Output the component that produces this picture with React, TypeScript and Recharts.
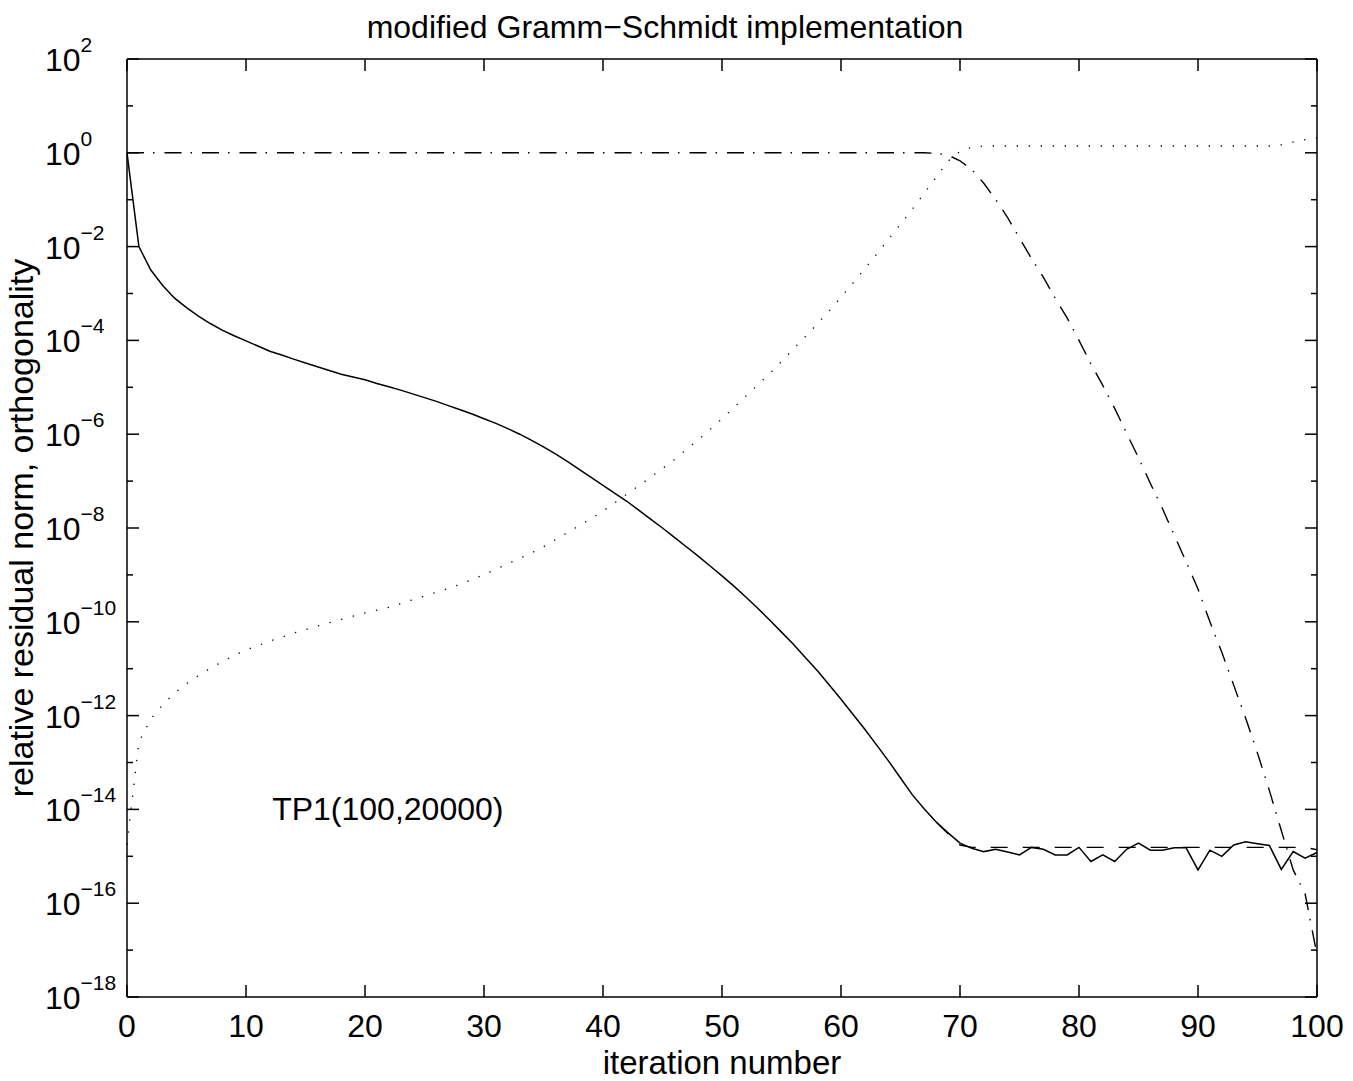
import React from 'react';
import { LineChart, Line, XAxis, YAxis, ReferenceDot } from 'recharts';

const FONT = '"Liberation Sans", Arial, Helvetica, sans-serif';

// iteration number 0..100
const iterations = Array.from({ length: 101 }, (_, i) => i);

// log10 of the relative residual norm (solid line)
const residualExp = [
  0, -2, -2.5, -2.83, -3.1, -3.3, -3.48, -3.64, -3.78, -3.9,
  -4.01, -4.12, -4.23, -4.31, -4.4, -4.48, -4.56, -4.64, -4.72, -4.78,
  -4.84, -4.92, -4.99, -5.06, -5.14, -5.22, -5.3, -5.39, -5.48, -5.57,
  -5.67, -5.77, -5.88, -6.0, -6.13, -6.27, -6.42, -6.58, -6.75, -6.92,
  -7.09, -7.26, -7.43, -7.62, -7.81, -8.0, -8.2, -8.4, -8.6, -8.81,
  -9.02, -9.24, -9.47, -9.71, -9.96, -10.22, -10.48, -10.76, -11.04, -11.34,
  -11.65, -11.97, -12.29, -12.63, -12.97, -13.33, -13.69, -13.99, -14.27, -14.5,
  -14.72, -14.83, -14.9, -14.85, -14.91, -14.97, -14.81, -14.85, -14.97, -14.97,
  -14.81, -15.11, -14.97, -15.11, -14.85, -14.72, -14.87, -14.87, -14.82, -14.82,
  -15.29, -14.87, -15.0, -14.76, -14.69, -14.73, -14.77, -15.28, -14.9, -15.04,
  -14.92,
];

// log10 of the true residual (dashed line), visible once it separates
const trueResidualExp = [
  null, null, null, null, null, null, null, null, null, null,
  null, null, null, null, null, null, null, null, null, null,
  null, null, null, null, null, null, null, null, null, null,
  null, null, null, null, null, null, null, null, null, null,
  null, null, null, null, null, null, null, null, null, null,
  null, null, null, null, null, null, null, null, null, null,
  null, null, null, null, null, null, null, null, -14.27, -14.52,
  -14.76, -14.81, -14.81, -14.81, -14.81, -14.81, -14.81, -14.81, -14.81, -14.81,
  -14.81, -14.81, -14.81, -14.81, -14.81, -14.81, -14.81, -14.81, -14.81, -14.81,
  -14.81, -14.81, -14.81, -14.81, -14.81, -14.81, -14.81, -14.81, -14.81, -14.81,
  -14.86,
];

// log10 of the loss of orthogonality (dotted line)
const orthoExp = [
  -14.75, -12.56, -12.07, -11.77, -11.52, -11.32, -11.15, -10.99, -10.85, -10.72,
  -10.6, -10.51, -10.41, -10.33, -10.24, -10.17, -10.09, -10.02, -9.95, -9.88,
  -9.81, -9.75, -9.69, -9.61, -9.53, -9.45, -9.37, -9.29, -9.2, -9.1,
  -8.99, -8.88, -8.76, -8.65, -8.53, -8.4, -8.25, -8.1, -7.95, -7.8,
  -7.64, -7.46, -7.28, -7.1, -6.92, -6.73, -6.54, -6.33, -6.12, -5.9,
  -5.67, -5.43, -5.19, -4.95, -4.71, -4.45, -4.18, -3.92, -3.65, -3.37,
  -3.08, -2.78, -2.47, -2.16, -1.84, -1.52, -1.2, -0.86, -0.52, -0.18,
  0.03, 0.12, 0.145, 0.145, 0.145, 0.145, 0.145, 0.145, 0.145, 0.145,
  0.145, 0.145, 0.145, 0.145, 0.145, 0.145, 0.145, 0.145, 0.145, 0.145,
  0.145, 0.145, 0.145, 0.145, 0.145, 0.145, 0.145, 0.17, 0.23, 0.28,
  0.32,
];

// log10 of the dash-dot quantity
const dashDotExp = [
  0, 0, 0, 0, 0, 0, 0, 0, 0, 0,
  0, 0, 0, 0, 0, 0, 0, 0, 0, 0,
  0, 0, 0, 0, 0, 0, 0, 0, 0, 0,
  0, 0, 0, 0, 0, 0, 0, 0, 0, 0,
  0, 0, 0, 0, 0, 0, 0, 0, 0, 0,
  0, 0, 0, 0, 0, 0, 0, 0, 0, 0,
  0, 0, 0, 0, 0, 0, 0, 0, -0.01, -0.05,
  -0.17, -0.36, -0.65, -1.0, -1.38, -1.82, -2.25, -2.65, -3.1, -3.52,
  -4.0, -4.5, -4.96, -5.45, -5.98, -6.5, -7.05, -7.58, -8.15, -8.72,
  -9.3, -10.0, -10.65, -11.35, -12.05, -12.8, -13.6, -14.45, -15.29, -15.8,
  -17.1,
];

const xTicks = [0, 10, 20, 30, 40, 50, 60, 70, 80, 90, 100];
const yTicks = [
  1e-18, 1e-17, 1e-16, 1e-15, 1e-14, 1e-13, 1e-12, 1e-11, 1e-10, 1e-9, 1e-8,
  1e-7, 1e-6, 1e-5, 1e-4, 1e-3, 1e-2, 1e-1, 1, 1e1, 1e2,
];

const data = iterations.map((it, i) => ({
  it,
  residual: 10 ** residualExp[i],
  trueResidual: trueResidualExp[i] === null ? null : 10 ** (trueResidualExp[i] as number),
  ortho: 10 ** orthoExp[i],
  dashDot: 10 ** dashDotExp[i],
}));

const TICK_FONT = 32;
const SUP_FONT = 21;
const LABEL_FONT = 33;

function expOf(v: number) {
  return Math.round(Math.log10(v));
}

function LeftTick({ x, y, payload }: any) {
  const e = expOf(payload.value);
  const major = e % 2 === 0;
  return (
    <g>
      <line x1={x} y1={y} x2={x + (major ? 12 : 6)} y2={y} stroke="#000" strokeWidth={1.5} />
      {major && (
        <text x={x - 82} y={y + 12} textAnchor="start" fontFamily={FONT} fontSize={TICK_FONT} fill="#000">
          <tspan>10</tspan>
          <tspan dy={-19} fontSize={SUP_FONT}>{e < 0 ? '\u2212' + -e : String(e)}</tspan>
        </text>
      )}
    </g>
  );
}

function RightTick({ x, y, payload }: any) {
  const major = expOf(payload.value) % 2 === 0;
  return <line x1={x} y1={y} x2={x - (major ? 12 : 6)} y2={y} stroke="#000" strokeWidth={1.5} />;
}

function BottomTick({ x, y, payload }: any) {
  return (
    <g>
      <line x1={x} y1={y} x2={x} y2={y - 12} stroke="#000" strokeWidth={1.5} />
      <text x={x} y={y + 40} textAnchor="middle" fontFamily={FONT} fontSize={TICK_FONT} fill="#000">
        {payload.value}
      </text>
    </g>
  );
}

function TopTick({ x, y }: any) {
  return <line x1={x} y1={y} x2={x} y2={y + 12} stroke="#000" strokeWidth={1.5} />;
}

// plot box edges in page pixels: left 127, top 59, right 1317, bottom 997
export default function App() {
  const axisLine = { stroke: '#000', strokeWidth: 1.5 };
  return (
    <div style={{ position: 'absolute', left: 0, top: 0, background: '#fff' }}>
      <LineChart width={1353} height={1081} data={data} margin={{ top: 19, right: 16, bottom: 44, left: 67 }}>
        <XAxis
          xAxisId="b"
          dataKey="it"
          type="number"
          domain={[0, 100]}
          ticks={xTicks}
          interval={0}
          height={40}
          tickSize={0}
          tickMargin={0}
          tickLine={false}
          axisLine={axisLine}
          tick={(p: any) => <BottomTick {...p} />}
          label={(p: any) => {
            const vb = p.viewBox;
            return (
              <text x={vb.x + vb.width / 2} y={1074} textAnchor="middle" fontFamily={FONT} fontSize={LABEL_FONT} fill="#000">
                iteration number
              </text>
            );
          }}
        />
        <XAxis
          xAxisId="t"
          orientation="top"
          dataKey="it"
          type="number"
          domain={[0, 100]}
          ticks={xTicks}
          interval={0}
          height={40}
          tickSize={0}
          tickMargin={0}
          tickLine={false}
          axisLine={axisLine}
          tick={(p: any) => <TopTick {...p} />}
          label={() => (
            <text x={665} y={38} textAnchor="middle" fontFamily={FONT} fontSize={TICK_FONT} fill="#000">
              modified Gramm{'\u2212'}Schmidt implementation
            </text>
          )}
        />
        <YAxis
          yAxisId="l"
          scale="log"
          domain={[1e-18, 1e2]}
          allowDataOverflow
          ticks={yTicks}
          interval={0}
          width={60}
          tickSize={0}
          tickMargin={0}
          tickLine={false}
          axisLine={axisLine}
          tick={(p: any) => <LeftTick {...p} />}
          label={(p: any) => {
            const vb = p.viewBox;
            const cx = 21;
            const cy = vb.y + vb.height / 2;
            return (
              <text
                x={cx}
                y={cy}
                transform={`rotate(-90, ${cx}, ${cy})`}
                textAnchor="middle"
                dominantBaseline="central"
                fontFamily={FONT}
                fontSize={34}
                fill="#000"
              >
                relative residual norm, orthogonality
              </text>
            );
          }}
        />
        <YAxis
          yAxisId="r"
          orientation="right"
          scale="log"
          domain={[1e-18, 1e2]}
          allowDataOverflow
          ticks={yTicks}
          interval={0}
          width={20}
          tickSize={0}
          tickMargin={0}
          tickLine={false}
          axisLine={axisLine}
          tick={(p: any) => <RightTick {...p} />}
        />
        <Line xAxisId="b" yAxisId="l" type="linear" dataKey="ortho" stroke="#000" strokeWidth={1.3}
          strokeDasharray="1.3 10.7" dot={false} isAnimationActive={false} />
        <Line xAxisId="b" yAxisId="l" type="linear" dataKey="dashDot" stroke="#000" strokeWidth={1.4}
          strokeDasharray="17 9 1.5 10" dot={false} isAnimationActive={false} />
        <Line xAxisId="b" yAxisId="l" type="linear" dataKey="trueResidual" stroke="#000" strokeWidth={1.4}
          strokeDasharray="17 15" dot={false} connectNulls={false} isAnimationActive={false} />
        <Line xAxisId="b" yAxisId="l" type="linear" dataKey="residual" stroke="#000" strokeWidth={1.5}
          dot={false} isAnimationActive={false} />
        <ReferenceDot
          xAxisId="b"
          yAxisId="l"
          x={12.2}
          y={1e-14}
          r={0}
          fill="none"
          stroke="none"
          label={(p: any) => (
            <text x={p.viewBox.x} y={p.viewBox.y} dominantBaseline="central" fontFamily={FONT} fontSize={TICK_FONT} fill="#000">
              TP1(100,20000)
            </text>
          )}
        />
      </LineChart>
    </div>
  );
}
